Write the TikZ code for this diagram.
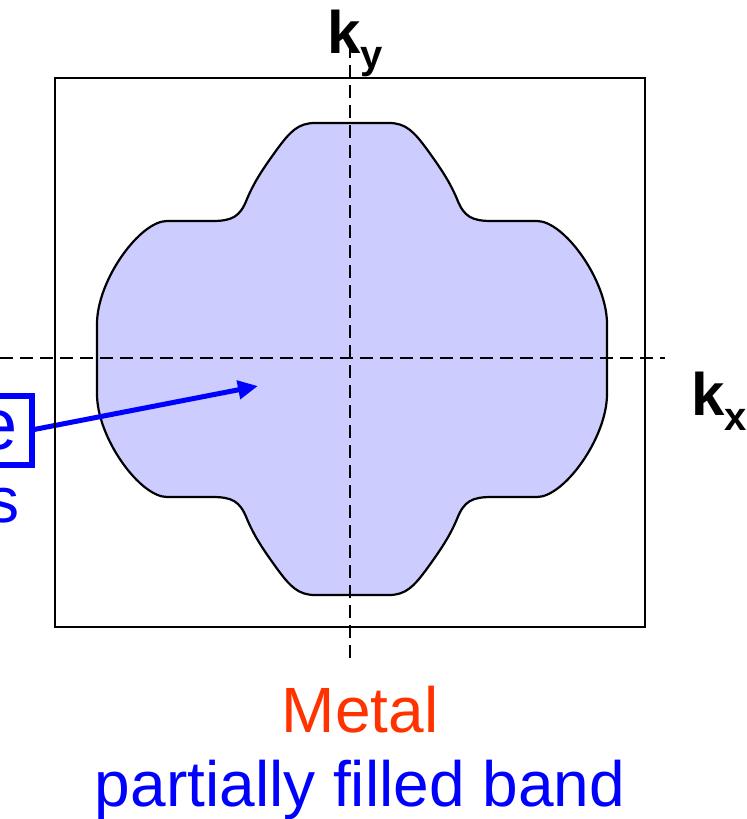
\documentclass[tikz,border=0pt]{standalone}
\usepackage{fontspec}
\setmainfont{Liberation Sans}
\usetikzlibrary{arrows.meta,calc,positioning}
\definecolor{fsfill}{HTML}{CCCCFF}
\definecolor{fsblue}{HTML}{0000FF}
\definecolor{fsred}{HTML}{FF3300}
\tikzset{
  every picture/.style={font=\rmfamily},
  zone/.style={draw=black,line width=1pt},
  fermisea/.style={draw=black,fill=fsfill,line width=1.1pt},
  kaxis/.style={draw=black,line width=1.2pt,dash pattern=on 6.5pt off 3.5pt},
  klabel/.style={inner sep=0pt,anchor=base west,font=\fontsize{30}{30}\selectfont\bfseries},
  pointer/.style={draw=fsblue,line width=2.5pt,-{Triangle[length=10pt,width=9pt]}},
  callout/.style={draw=fsblue,line width=3pt,text=fsblue,inner xsep=7pt,inner ysep=0pt,
    minimum height=34.5pt,outer sep=0pt,font=\fontsize{36}{36}\selectfont},
  caption/.style={inner sep=0pt,anchor=base,font=\fontsize{32}{38}\selectfont},
}

\begin{document}
\begin{tikzpicture}[x=0.5pt,y=-0.5pt]
  \useasboundingbox (0,0) rectangle (747,819);
  % occupied region of the zone
  \draw[fermisea] (352,123) -- (315,123)
    .. controls (298,123) and (290,132) .. (278,148)
    .. controls (265,166) and (255,180) .. (247,199)
    .. controls (240,217) and (232,221) .. (212,221) -- (167,221)
    .. controls (140,221) and (97,280) .. (97,324) -- (97,394)
    .. controls (97,438) and (140,497) .. (167,497) -- (212,497)
    .. controls (232,497) and (240,501) .. (247,519)
    .. controls (255,538) and (265,552) .. (278,570)
    .. controls (290,586) and (298,595) .. (315,595) -- (389,595)
    .. controls (406,595) and (414,586) .. (426,570)
    .. controls (439,552) and (449,538) .. (457,519)
    .. controls (464,501) and (472,497) .. (492,497) -- (537,497)
    .. controls (564,497) and (607,438) .. (607,394) -- (607,324)
    .. controls (607,280) and (564,221) .. (537,221) -- (492,221)
    .. controls (472,221) and (464,217) .. (457,199)
    .. controls (449,180) and (439,166) .. (426,148)
    .. controls (414,132) and (406,123) .. (389,123) -- cycle;
  % axes
  \coordinate (kytop) at (350,45);
  \coordinate (kybot) at (350,662);
  \coordinate (kxleft) at (0,358);
  \coordinate (kxright) at (665,358);
  \draw[kaxis] (kytop) -- (kybot);
  \draw[kaxis] (kxleft) -- (kxright);
  \node[klabel] (ky) at (327,53) {k\raisebox{-7.5pt}{\fontsize{20}{20}\selectfont y}};
  \node[klabel] (kx) at (691,415) {k\raisebox{-7.5pt}{\fontsize{20}{20}\selectfont x}};
  % label on the left, cut by the page edge
  \node[callout,anchor=east] (fsbox) at (31.5,430) {e};
  \node[caption,anchor=base east,text=fsblue] (fsline) at (20,522) {s};
  \coordinate (fstip) at (258,386);
  \draw[pointer] (fsbox.east) -- (fstip);
  % Brillouin zone
  \draw[zone] (55,78) rectangle (645,627);
  % captions
  \node[caption,text=fsred] (metal) at (360,732) {Metal};
  \node[caption,text=fsblue] (band) at (360,806) {partially filled band};
\end{tikzpicture}
\end{document}
